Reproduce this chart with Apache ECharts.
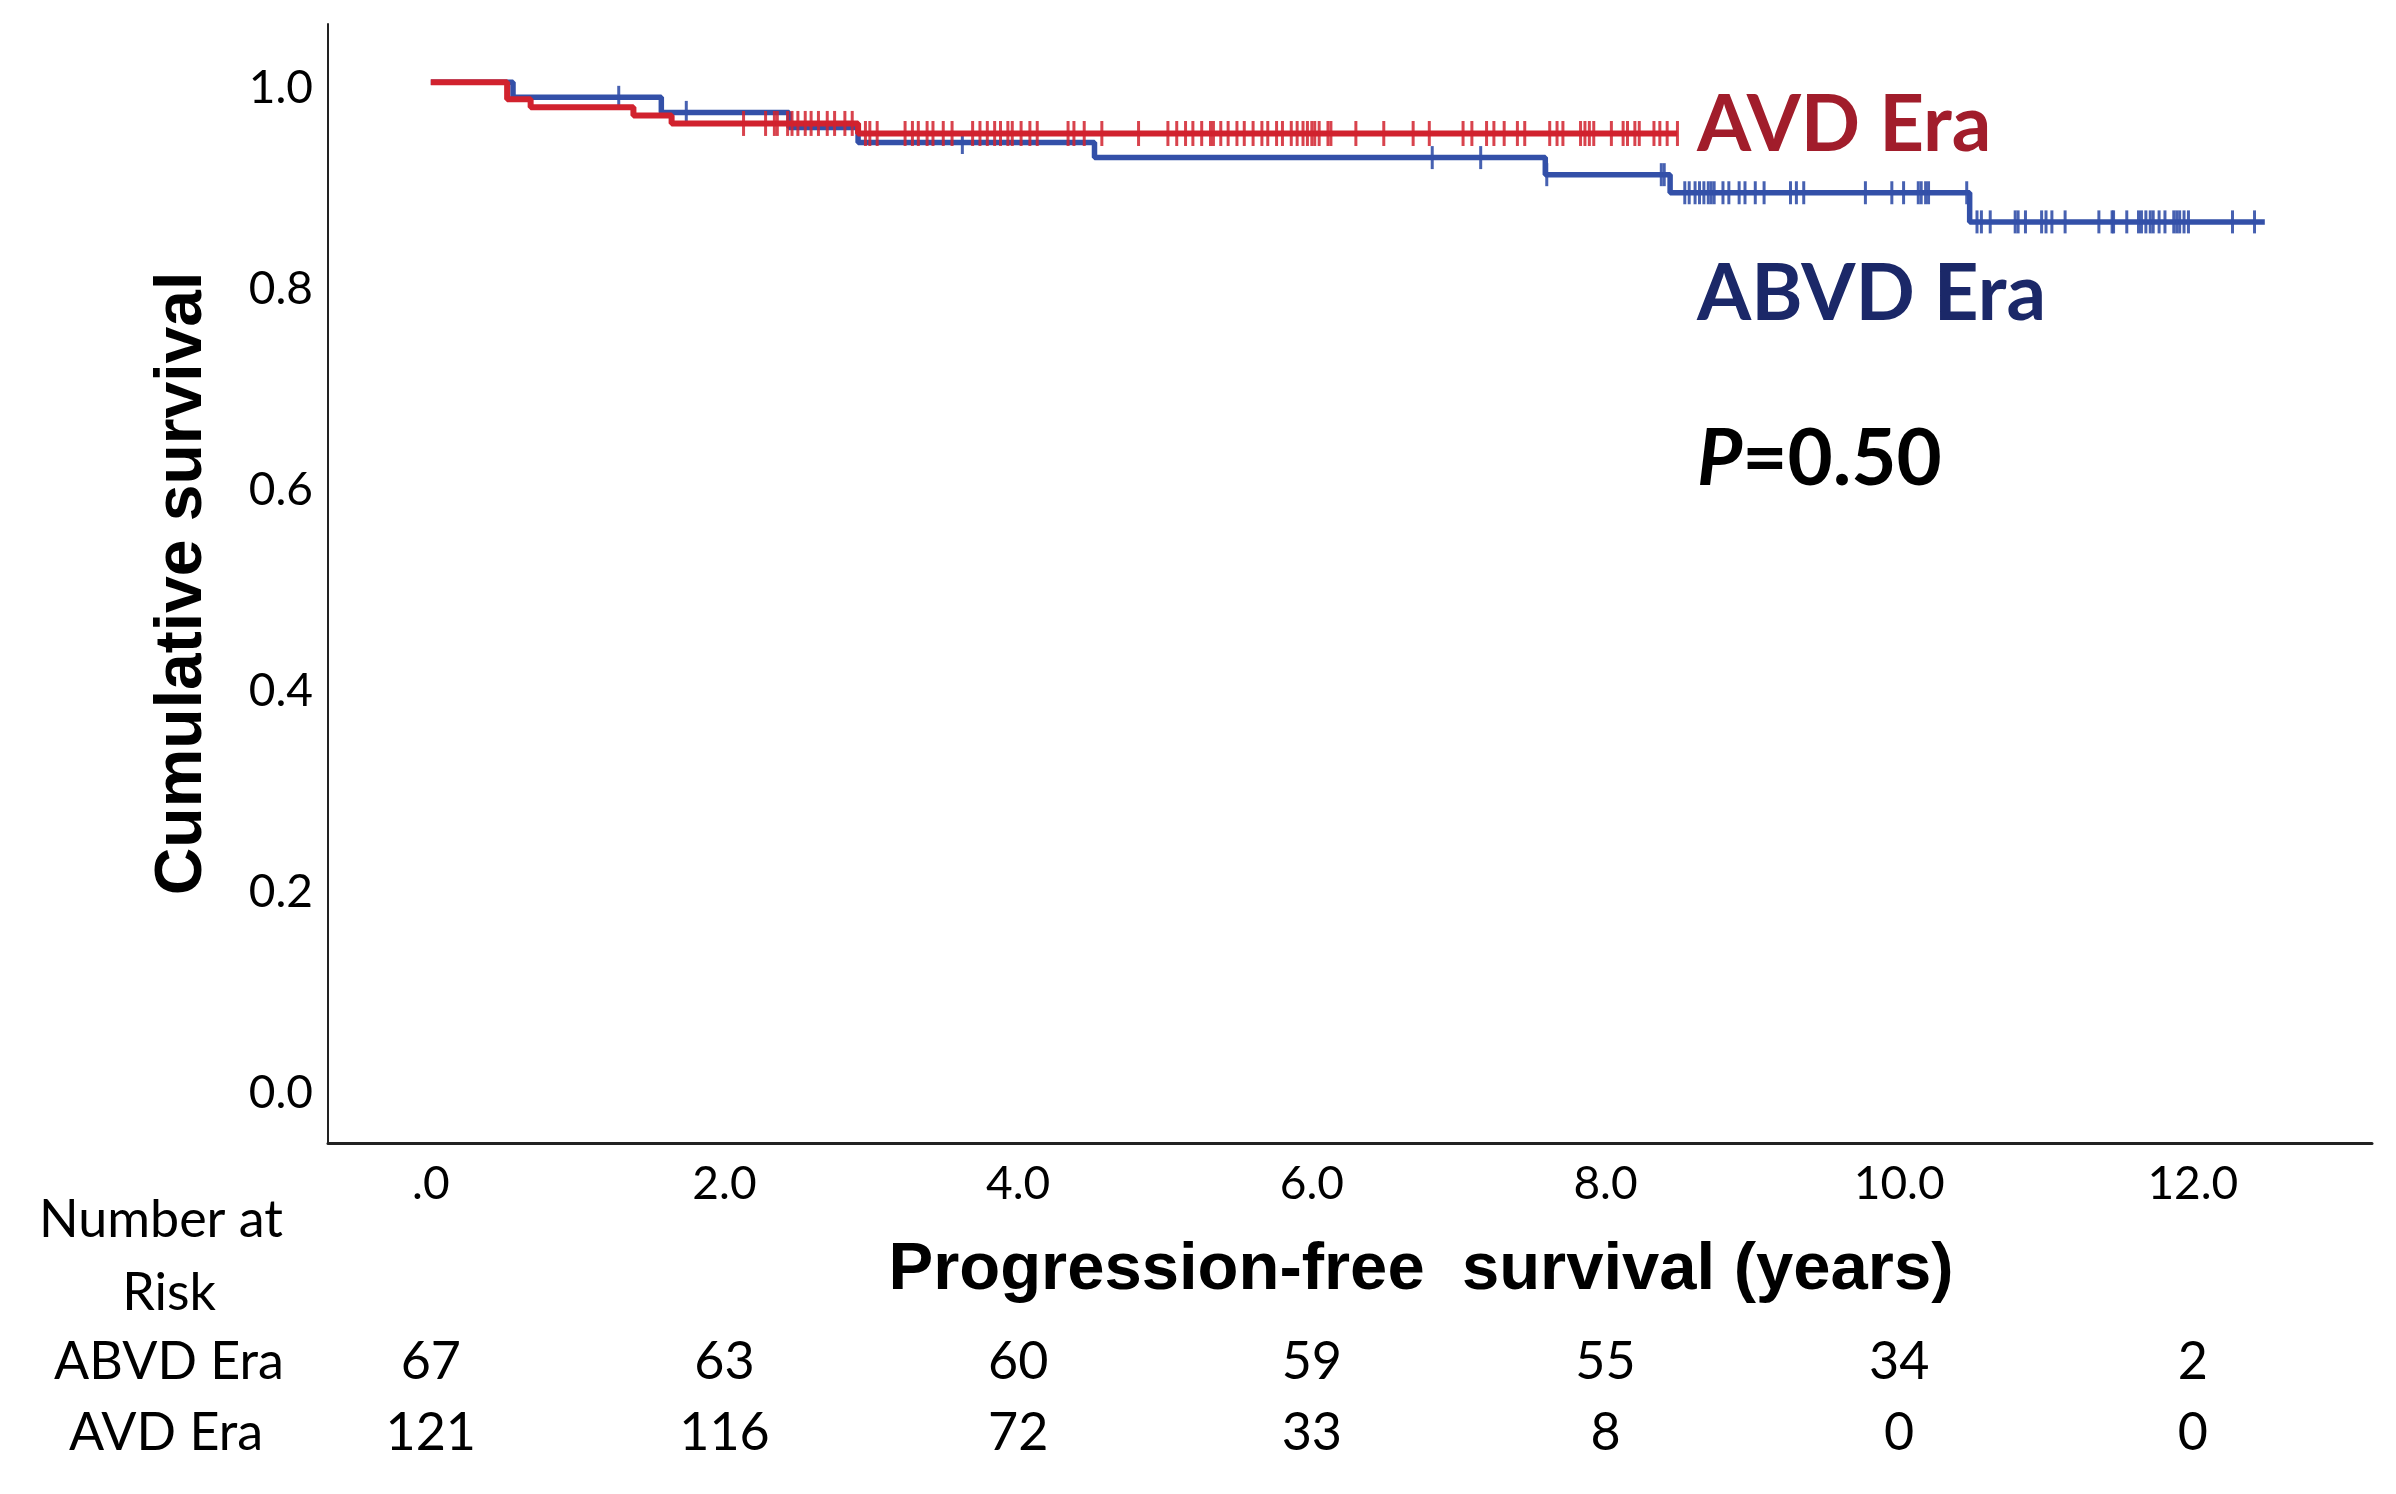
<!DOCTYPE html>
<html>
<head>
<meta charset="utf-8">
<script src="https://cdn.jsdelivr.net/npm/echarts@6/dist/echarts.min.js"></script>
<style>
html,body{margin:0;padding:0;background:#fff;}
#chart{width:2396px;height:1494px;}
</style>
</head>
<body>
<div id="chart"></div>
<script>
// ---- data ----
const xTickValues = [0, 2, 4, 6, 8, 10, 12];
const xTickLabels = ['.0', '2.0', '4.0', '6.0', '8.0', '10.0', '12.0'];
const yTickValues = [0, 0.2, 0.4, 0.6, 0.8, 1.0];
const yTickLabels = ['0.0', '0.2', '0.4', '0.6', '0.8', '1.0'];

// ABVD Era (blue) step curve
const abvdTimes = [0, 0.56, 1.57, 2.44, 2.91, 4.52, 7.59, 8.44, 10.48];
const abvdSurv  = [1.0, 0.985, 0.970, 0.955, 0.940, 0.925, 0.908, 0.890, 0.861];
const abvdEnd = 12.49;
const abvdCensor = [1.28, 1.74, 3.62, 6.82, 7.15, 7.60, 8.38, 8.40, 8.54, 8.57, 8.61, 8.64, 8.67, 8.70, 8.72,
  8.74, 8.80, 8.84, 8.91, 8.95, 9.02, 9.08, 9.26, 9.30, 9.35, 9.77, 9.95, 10.03, 10.13, 10.15, 10.18, 10.20,
  10.46, 10.53, 10.56, 10.62, 10.79, 10.81, 10.86, 10.97, 11.00, 11.04, 11.13, 11.36, 11.45, 11.46, 11.55,
  11.63, 11.65, 11.68, 11.71, 11.73, 11.77, 11.81, 11.87, 11.89, 11.91, 11.94, 11.97, 12.27, 12.42];

// AVD Era (red) step curve
const avdTimes = [0, 0.52, 0.68, 1.38, 1.64, 2.91];
const avdSurv  = [1.0, 0.983, 0.975, 0.967, 0.959, 0.949];
const avdEnd = 8.49;
const avdCensor = [2.13, 2.28, 2.34, 2.36, 2.43, 2.46, 2.50, 2.55, 2.59, 2.64, 2.70, 2.75, 2.82, 2.87,
  2.96, 2.99, 3.04, 3.23, 3.28, 3.32, 3.38, 3.42, 3.49, 3.55, 3.69, 3.74, 3.79, 3.84, 3.88, 3.93, 3.96, 4.02,
  4.08, 4.13, 4.34, 4.38, 4.45, 4.57, 4.82, 5.02, 5.08, 5.14, 5.19, 5.25, 5.31, 5.33, 5.38, 5.43, 5.49, 5.54,
  5.60, 5.66, 5.70, 5.76, 5.80, 5.86, 5.90, 5.94, 5.97, 6.00, 6.02, 6.05, 6.11, 6.13, 6.30, 6.49, 6.69, 6.80,
  7.03, 7.09, 7.19, 7.24, 7.31, 7.40, 7.45, 7.62, 7.67, 7.71, 7.83, 7.86, 7.89, 7.92, 8.04, 8.12, 8.15, 8.20,
  8.23, 8.33, 8.37, 8.42, 8.49];

// Number at risk
const riskTimes = [0, 2, 4, 6, 8, 10, 12];
const riskABVD = [67, 63, 60, 59, 55, 34, 2];
const riskAVD = [121, 116, 72, 33, 8, 0, 0];

// ---- helpers ----
function stepData(times, surv, end) {
  const d = times.map((t, i) => [t, surv[i]]);
  d.push([end, surv[surv.length - 1]]);
  return d;
}
function survAt(times, surv, t) {
  let s = surv[0];
  for (let i = 0; i < times.length; i++) if (times[i] <= t) s = surv[i];
  return s;
}
function findIdx(arr, v) {
  return arr.findIndex(a => Math.abs(a - v) < 1e-6);
}

const RED = '#D1222E';
const BLUE = '#3350A8';

const chart = echarts.init(document.getElementById('chart'));
const xBase = { type: 'value', min: -0.70, max: 13.22, interval: 0.02, splitLine: { show: false }, axisTick: { show: false } };

chart.setOption({
  animation: false,
  backgroundColor: '#fff',
  grid: { left: 328, right: 24, top: 24, bottom: 351, containLabel: false },
  xAxis: [
    Object.assign({}, xBase, {
      position: 'bottom',
      axisLine: { show: true, onZero: false, lineStyle: { color: '#222', width: 3 } },
      axisLabel: {
        interval: 0, margin: 18, color: '#000', fontFamily: 'Lato', fontSize: 46,
        formatter: v => { const i = findIdx(xTickValues, v); return i >= 0 ? xTickLabels[i] : ''; }
      },
      name: 'Progression-free  survival (years)',
      nameLocation: 'middle', nameGap: 94,
      nameTextStyle: { fontFamily: 'Liberation Sans', fontWeight: 'bold', fontSize: 67, color: '#000', padding: [0, 0, 0, 142] }
    }),
    Object.assign({}, xBase, {
      position: 'bottom', offset: 179, gridIndex: 0,
      axisLine: { show: false },
      axisLabel: {
        interval: 0, margin: 14, color: '#000', fontFamily: 'Lato', fontSize: 52,
        formatter: v => { const i = findIdx(riskTimes, v); return i >= 0 ? String(riskABVD[i]) : ''; }
      }
    }),
    Object.assign({}, xBase, {
      position: 'bottom', offset: 250, gridIndex: 0,
      axisLine: { show: false },
      axisLabel: {
        interval: 0, margin: 14, color: '#000', fontFamily: 'Lato', fontSize: 52,
        formatter: v => { const i = findIdx(riskTimes, v); return i >= 0 ? String(riskAVD[i]) : ''; }
      }
    })
  ],
  yAxis: {
    type: 'value', min: -0.056, max: 1.058, interval: 0.002,
    splitLine: { show: false }, axisTick: { show: false },
    axisLine: { show: true, onZero: false, lineStyle: { color: '#222', width: 2 } },
    axisLabel: {
      margin: 15, color: '#000', fontFamily: 'Lato', fontSize: 46,
      formatter: v => { const i = findIdx(yTickValues, v); return i >= 0 ? '{v|' + yTickLabels[i] + '}' : ''; },
      rich: { v: { fontFamily: 'Lato', fontSize: 46, color: '#000', padding: [12, 0, 0, 0] } }
    },
    name: 'Cumulative survival',
    nameLocation: 'middle', nameGap: 112, nameRotate: 90,
    nameTextStyle: { fontFamily: 'Liberation Sans', fontWeight: 'bold', fontSize: 66, color: '#000' }
  },
  series: [
    {
      name: 'ABVD Era', type: 'line', step: 'end', showSymbol: false, z: 2,
      data: stepData(abvdTimes, abvdSurv, abvdEnd),
      lineStyle: { color: BLUE, width: 5.5 }, itemStyle: { color: BLUE }
    },
    {
      name: 'ABVD censored', type: 'scatter', z: 3, symbol: 'rect', symbolSize: [3, 23],
      data: abvdCensor.map(t => [t, survAt(abvdTimes, abvdSurv, t)]),
      itemStyle: { color: BLUE, opacity: 0.9 }
    },
    {
      name: 'AVD Era', type: 'line', step: 'end', showSymbol: false, z: 4,
      data: stepData(avdTimes, avdSurv, avdEnd),
      lineStyle: { color: RED, width: 6 }, itemStyle: { color: RED }
    },
    {
      name: 'AVD censored', type: 'scatter', z: 5, symbol: 'rect', symbolSize: [3, 25],
      data: avdCensor.map(t => [t, survAt(avdTimes, avdSurv, t)]),
      itemStyle: { color: RED, opacity: 0.85 }
    }
  ],
  graphic: [
    { type: 'text', left: 1697, top: 87, style: { text: 'AVD Era', fontFamily: 'Lato', fontWeight: 'bold', fontSize: 78, fill: '#A11D2B' } },
    { type: 'text', left: 1697, top: 256, style: { text: 'ABVD Era', fontFamily: 'Lato', fontWeight: 'bold', fontSize: 78, fill: '#1B2868' } },
    { type: 'text', left: 1697, top: 421, style: {
        text: '{i|P}=0.50', fontFamily: 'Lato', fontWeight: 'bold', fontSize: 78, fill: '#000',
        rich: { i: { fontFamily: 'Lato', fontWeight: 'bold', fontStyle: 'italic', fontSize: 78, fill: '#000' } }
      } },
    { type: 'text', x: 161, y: 1220, style: { text: 'Number at', fontFamily: 'Lato', fontSize: 52, fill: '#000', textAlign: 'center', textVerticalAlign: 'middle' } },
    { type: 'text', x: 169, y: 1293, style: { text: 'Risk', fontFamily: 'Lato', fontSize: 52, fill: '#000', textAlign: 'center', textVerticalAlign: 'middle' } },
    { type: 'text', x: 169, y: 1362, style: { text: 'ABVD Era', fontFamily: 'Lato', fontSize: 52, fill: '#000', textAlign: 'center', textVerticalAlign: 'middle' } },
    { type: 'text', x: 166, y: 1433, style: { text: 'AVD Era', fontFamily: 'Lato', fontSize: 52, fill: '#000', textAlign: 'center', textVerticalAlign: 'middle' } }
  ]
});
</script>
</body>
</html>
